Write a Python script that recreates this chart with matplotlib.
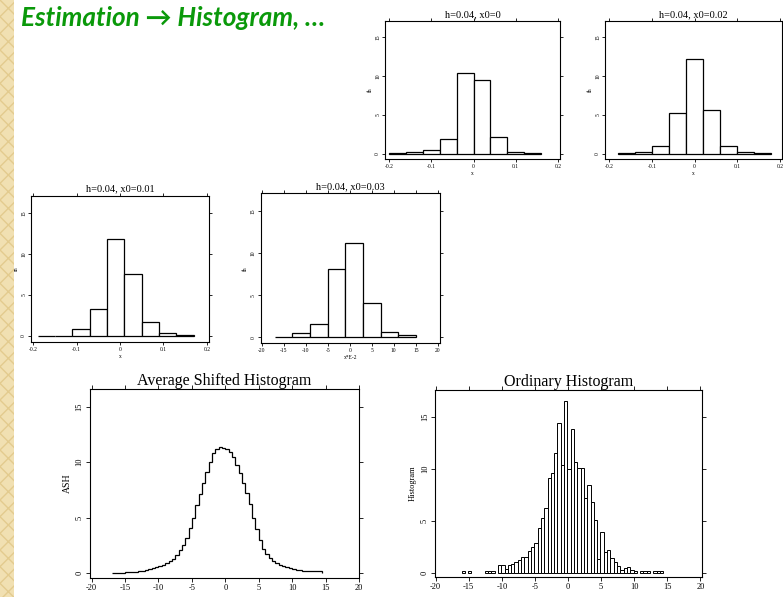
import numpy as np
import matplotlib
matplotlib.use("Agg")
import matplotlib.pyplot as plt
from matplotlib.patches import Rectangle

# --- small histograms, h = 0.04 (bin width), different origins x0 ---
bin_h = 0.04
fh_x0_0 = [0.05, 0.15, 0.43, 1.92, 10.34, 9.44, 2.18, 0.26, 0.10]
start_x0_0 = -0.20
fh_x0_002 = [0.05, 0.17, 1.03, 5.26, 12.14, 5.68, 0.98, 0.20, 0.08]
start_x0_002 = -0.18
fh_x0_001 = [0.03, 0.05, 0.81, 3.33, 11.87, 7.56, 1.71, 0.41, 0.08]
start_x0_001 = -0.19
# this one is drawn in x*E-2 units
fh_x0_003 = [0.08, 0.53, 1.64, 8.07, 11.23, 4.10, 0.66, 0.33]
start_x0_003 = -17
bin_h_e2 = 4

# --- ordinary histogram (x*E-2 units) ---
hist_start = -16.1
hist_width = 0.5
hist_vals = [0.2, 0, 0.2, 0, 0, 0, 0, 0.2, 0.2, 0.2, 0,
             0.75, 0.75, 0.35, 0.75, 0.8, 1.0, 1.2, 1.5, 1.5, 2.1,
             2.5, 2.9, 4.3, 5.3, 6.2, 9.1, 9.6, 11.5, 14.4, 10.4,
             16.5, 10.0, 13.8, 10.7, 10.1, 10.1, 7.2, 8.4, 6.8, 5.1,
             1.3, 3.9, 2.0, 2.2, 1.4, 1.0, 0.6, 0.3, 0.4, 0.55,
             0.3, 0.2, 0, 0.2, 0.2, 0.2, 0, 0.2, 0.2, 0.2]

# --- average shifted histogram (step function) ---
ash_start = -17.0
ash_delta = 0.5
ash_vals = [0.01, 0.02, 0.03, 0.04, 0.05, 0.06, 0.08, 0.11, 0.15, 0.22,
            0.30, 0.38, 0.45, 0.55, 0.63, 0.75, 0.88, 1.05, 1.30, 1.65,
            2.05, 2.55, 3.20, 4.10, 4.95, 6.10, 7.10, 8.10, 9.15, 10.05,
            10.80, 11.15, 11.35, 11.30, 11.15, 10.90, 10.45, 9.75, 9.00, 8.10,
            7.20, 6.20, 5.00, 3.95, 2.95, 2.20, 1.70, 1.35, 1.10, 0.90,
            0.72, 0.60, 0.50, 0.42, 0.36, 0.30, 0.26, 0.22, 0.20, 0.18,
            0.17, 0.17, 0.17]

small_xticks = [-0.2, -0.1, 0, 0.1, 0.2]
small_xticklabels = ["-0.2", "-0.1", "0", "0.1", "0.2"]
e2_xticks = [-20, -15, -10, -5, 0, 5, 10, 15, 20]
yticks = [0, 5, 10, 15]

plt.rcParams["axes.unicode_minus"] = False
serif = "Liberation Serif"
fig = plt.figure(figsize=(7.83, 5.97), dpi=100)
fig.patch.set_facecolor("white")

# decorative slide border on the left
fig.patches.append(Rectangle((0, 0), 14 / 783, 1, transform=fig.transFigure,
                             facecolor="#f1e0b2", edgecolor="#e3cb8e",
                             hatch="xx", linewidth=0, zorder=0))

fig.text(21 / 783, 1 - 18 / 597, "Estimation \u2192 Histogram, \u2026",
         color="#0a990a", fontsize=18.8, fontweight="bold", style="italic",
         family=["Lato", "DejaVu Sans"], va="center", ha="left")


def style_axes(ax, fs, tl):
    ax.set_yticks(yticks)
    ax.tick_params(axis="both", direction="out", length=tl, width=0.6,
                   labelsize=fs, top=True, right=True, pad=1.5)
    for lab in ax.get_yticklabels():
        lab.set_rotation(90)
        lab.set_va("center")
    for lab in ax.get_xticklabels() + ax.get_yticklabels():
        lab.set_family(serif)
    for s in ax.spines.values():
        s.set_linewidth(0.8)


def small_hist(rect, vals, start, width, title, xlim, xticks, xticklabels, xlabel):
    ax = fig.add_axes(rect)
    left = start + width * np.arange(len(vals))
    ax.bar(left, vals, width=width, align="edge", facecolor="white",
           edgecolor="black", linewidth=0.9)
    ax.set_xlim(*xlim)
    ax.set_ylim(-0.7, 17.1)
    ax.set_xticks(xticks)
    ax.set_xticklabels(xticklabels)
    style_axes(ax, 4, 2)
    ax.set_title(title, fontsize=7.5, family=serif, pad=3)
    ax.set_ylabel("fh", fontsize=4, family=serif, labelpad=2)
    ax.set_xlabel(xlabel, fontsize=4, family=serif, labelpad=1.5)
    return ax


small_hist([0.4917, 0.7337, 0.2235, 0.2312], fh_x0_0, start_x0_0, bin_h,
           "h=0.04, x0=0", (-0.21, 0.205), small_xticks, small_xticklabels, "x")
small_hist([0.7727, 0.7337, 0.2261, 0.2312], fh_x0_002, start_x0_002, bin_h,
           "h=0.04, x0=0.02", (-0.21, 0.205), small_xticks, small_xticklabels, "x")
small_hist([0.0396, 0.4276, 0.2273, 0.2446], fh_x0_001, start_x0_001, bin_h,
           "h=0.04, x0=0.01", (-0.205, 0.205), small_xticks, small_xticklabels, "x")
small_hist([0.3330, 0.4250, 0.2290, 0.2513], fh_x0_003, start_x0_003, bin_h_e2,
           "h=0.04, x0=0.03", (-20.2, 20.5), e2_xticks,
           [str(t) for t in e2_xticks], "x*E-2")

# Average shifted histogram
ax = fig.add_axes([0.1149, 0.0318, 0.3436, 0.3166])
edges = ash_start + ash_delta * np.arange(len(ash_vals) + 1)
ax.stairs(ash_vals, edges, color="black", linewidth=0.9)
ax.set_xlim(-20.25, 20)
ax.set_ylim(-0.45, 16.6)
ax.set_xticks(e2_xticks)
style_axes(ax, 6, 3)
ax.set_title("Average Shifted Histogram", fontsize=11.5, family=serif, pad=3)
ax.set_ylabel("ASH", fontsize=7, family=serif, labelpad=3)

# Ordinary histogram
ax = fig.add_axes([0.5556, 0.0335, 0.3410, 0.3132])
hv = np.array(hist_vals)
hx = hist_start + hist_width * np.arange(len(hv))
keep = hv > 0
ax.bar(hx[keep], hv[keep], width=hist_width, align="edge", facecolor="white",
       edgecolor="black", linewidth=0.7)
ax.set_xlim(-20.1, 20.25)
ax.set_ylim(-0.42, 17.6)
ax.set_xticks(e2_xticks)
style_axes(ax, 6, 3)
ax.set_title("Ordinary Histogram", fontsize=11.5, family=serif, pad=3)
ax.set_ylabel("Histogram", fontsize=6, family=serif, labelpad=3)

fig.savefig("out.png", dpi=100)
